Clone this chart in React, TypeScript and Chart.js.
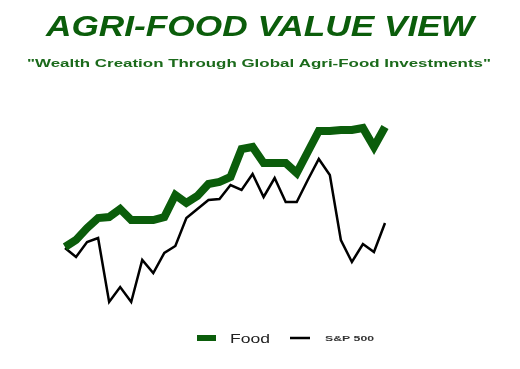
import React, { useEffect, useRef } from "react";
import { Chart, registerables } from "chart.js";
Chart.register(...registerables);

const periods = [
  "1", "2", "3", "4", "5", "6", "7", "8", "9", "10",
  "11", "12", "13", "14", "15", "16", "17", "18", "19", "20",
  "21", "22", "23", "24", "25", "26", "27", "28", "29", "30",
];
const foodValues = [73, 80, 92, 102, 103, 111, 100, 100, 100, 103, 125, 117, 124, 136, 138, 143, 171, 173, 157, 157, 157, 147, 168, 189, 189, 190, 190, 192, 173, 193];
const spValues = [72, 63, 78, 82, 18, 33, 18, 60, 47, 67, 74, 102, 111, 120, 121, 135, 130, 146, 123, 142, 118, 118, 140, 161, 145, 80, 58, 76, 68, 97];
const titleText = "AGRI-FOOD VALUE VIEW";
const subtitleText = "\"Wealth Creation Through Global Agri-Food Investments\"";
const foodLabel = "Food";
const spLabel = "S&P 500";

const FAMILY = "'Liberation Sans', Arial, sans-serif";
const GREEN = "#0b5d0b";

function drawFit(ctx: CanvasRenderingContext2D, text: string, font: string, color: string, x: number, baseline: number, width: number, align: "center" | "left") {
  ctx.save();
  ctx.font = font;
  const w = ctx.measureText(text).width;
  ctx.translate(x, baseline);
  ctx.scale(width / w, 1);
  ctx.fillStyle = color;
  ctx.textAlign = align;
  ctx.textBaseline = "alphabetic";
  ctx.fillText(text, 0, 0);
  ctx.restore();
}

const decorPlugin = {
  id: "decor",
  afterDraw(chart: any) {
    const ctx = chart.ctx as CanvasRenderingContext2D;
    drawFit(ctx, titleText, `italic bold 29px ${FAMILY}`, GREEN, 260, 36, 428, "center");
    drawFit(ctx, subtitleText, `bold 10px ${FAMILY}`, "#1b6a1b", 259, 67, 464, "center");
    // legend
    const ds = chart.data.datasets;
    ctx.save();
    ctx.fillStyle = ds[0].borderColor;
    ctx.fillRect(197, 335, 19, 6);
    ctx.strokeStyle = ds[1].borderColor;
    ctx.lineWidth = 2.5;
    ctx.beginPath();
    ctx.moveTo(290, 338);
    ctx.lineTo(310, 338);
    ctx.stroke();
    ctx.restore();
    drawFit(ctx, ds[0].label, `12px ${FAMILY}`, "#222", 230, 343, 40, "left");
    drawFit(ctx, ds[1].label, `bold 7px ${FAMILY}`, "#333", 325, 341, 49, "left");
  },
};

export default function App() {
  const ref = useRef<HTMLCanvasElement>(null);
  useEffect(() => {
    if (!ref.current) return;
    const chart = new Chart(ref.current, {
      type: "line",
      data: {
        labels: periods,
        datasets: [
          {
            label: foodLabel,
            data: foodValues,
            borderColor: GREEN,
            borderWidth: 8,
            pointRadius: 0,
            tension: 0,
          },
          {
            label: spLabel,
            data: spValues,
            borderColor: "#000000",
            borderWidth: 2.5,
            pointRadius: 0,
            tension: 0,
          },
        ],
      },
      options: {
        responsive: false,
        animation: false,
        layout: { padding: { left: 65, right: 135, top: 120, bottom: 49 } },
        scales: {
          x: { display: false, offset: false },
          y: { display: false, min: 0, max: 200 },
        },
        plugins: {
          legend: { display: false },
          title: { display: false },
          tooltip: { enabled: false },
        },
      },
      plugins: [decorPlugin],
    });
    return () => chart.destroy();
  }, []);
  return (
    <div style={{ position: "fixed", left: 0, top: 0, width: 520, height: 369, background: "#fff" }}>
      <canvas ref={ref} width={520} height={369} />
    </div>
  );
}
